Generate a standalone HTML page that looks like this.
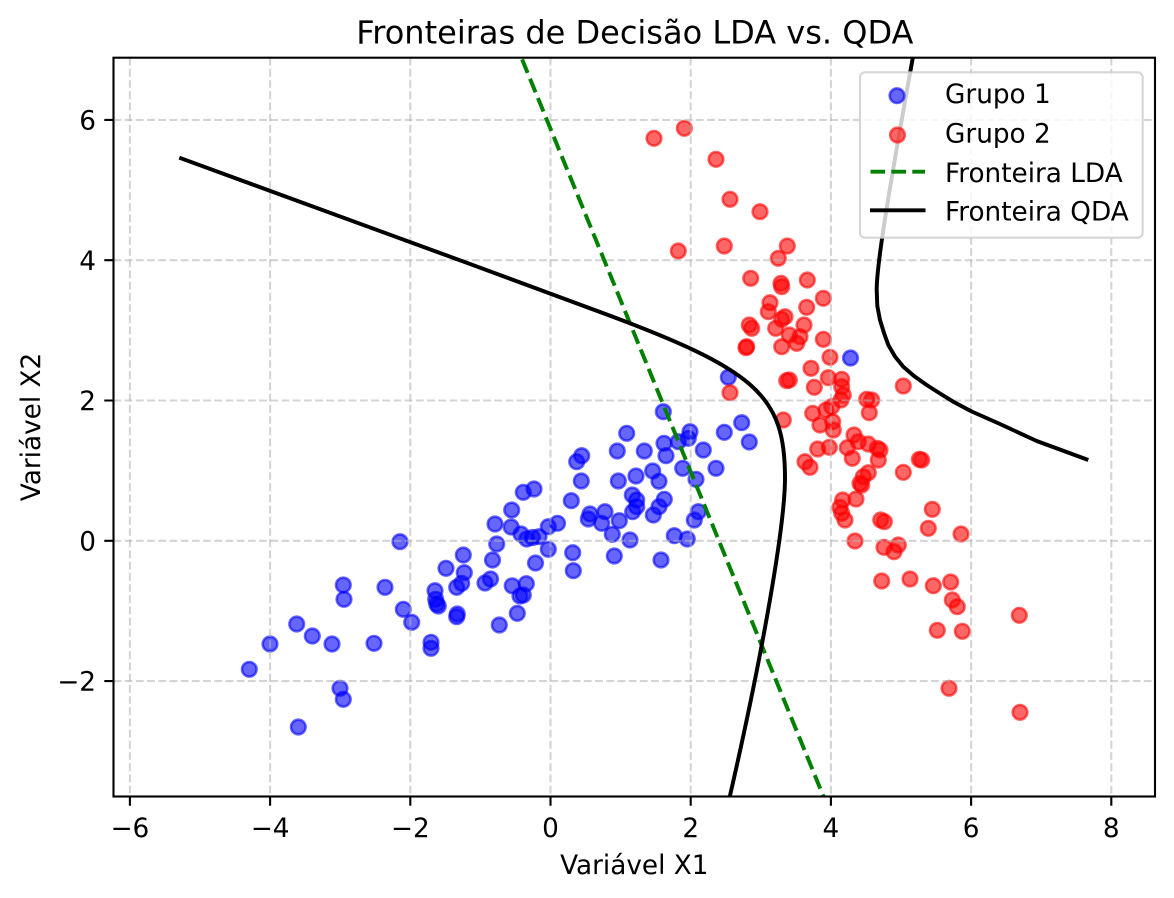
<!DOCTYPE html>
<html>
<head>
<meta charset="utf-8">
<style>
html,body{margin:0;padding:0;background:#fff}
svg{display:block}
text{font-family:"DejaVu Sans","Liberation Sans",sans-serif;fill:#000}
</style>
</head>
<body>
<svg width="1174" height="898" viewBox="0 0 1174 898" xmlns="http://www.w3.org/2000/svg" xmlns:xlink="http://www.w3.org/1999/xlink">
<defs>
<clipPath id="ax"><rect x="113.5" y="57.7" width="1041.5" height="738.8"/></clipPath>
<circle id="b" cx="0" cy="0" r="7.3" fill="#0000ff" fill-opacity="0.6" stroke="#0000ff" stroke-opacity="0.6" stroke-width="2.6"/>
<circle id="r" cx="0" cy="0" r="7.3" fill="#ff0000" fill-opacity="0.6" stroke="#ff0000" stroke-opacity="0.6" stroke-width="2.6"/>
</defs>
<rect x="0" y="0" width="1174" height="898" fill="#fff"/>

<g clip-path="url(#ax)">
<use href="#b" x="400" y="541.7"/><use href="#b" x="343.3" y="585"/><use href="#b" x="344" y="599.3"/><use href="#b" x="385" y="587.3"/><use href="#b" x="403.3" y="609.3"/><use href="#b" x="411.7" y="622.3"/>
<use href="#b" x="296.7" y="624"/><use href="#b" x="312.3" y="636"/><use href="#b" x="270" y="644"/><use href="#b" x="332" y="644"/><use href="#b" x="374" y="643.3"/><use href="#b" x="249.3" y="669.3"/>
<use href="#b" x="340" y="688.3"/><use href="#b" x="343.3" y="699.3"/><use href="#b" x="298.3" y="727"/><use href="#b" x="431" y="642.3"/><use href="#b" x="431" y="648.3"/><use href="#b" x="435" y="590.7"/>
<use href="#b" x="435.7" y="599.3"/><use href="#b" x="438.3" y="606"/><use href="#b" x="436.7" y="604"/><use href="#b" x="457.3" y="614"/><use href="#b" x="456.7" y="616.7"/><use href="#b" x="446" y="568.3"/>
<use href="#b" x="463.3" y="555"/><use href="#b" x="464.3" y="572.7"/><use href="#b" x="461.7" y="583.3"/><use href="#b" x="456.7" y="587.3"/><use href="#b" x="485" y="583"/><use href="#b" x="490.5" y="579"/>
<use href="#b" x="492.5" y="560"/><use href="#b" x="496.7" y="544"/><use href="#b" x="495" y="524"/><use href="#b" x="511.7" y="510"/><use href="#b" x="523.3" y="492.3"/><use href="#b" x="534" y="489"/>
<use href="#b" x="511.2" y="527"/><use href="#b" x="521" y="534"/><use href="#b" x="526.7" y="539"/><use href="#b" x="532.5" y="537.5"/><use href="#b" x="539" y="536.7"/><use href="#b" x="548.3" y="526.7"/>
<use href="#b" x="557.5" y="523.3"/><use href="#b" x="548.3" y="549.3"/><use href="#b" x="535.5" y="563"/><use href="#b" x="512.2" y="585.8"/><use href="#b" x="526.3" y="583.7"/><use href="#b" x="520" y="596"/>
<use href="#b" x="523.3" y="595"/><use href="#b" x="517.3" y="613.3"/><use href="#b" x="499.3" y="625"/><use href="#b" x="728.3" y="377.3"/><use href="#b" x="663.3" y="411.7"/><use href="#b" x="626.7" y="433.3"/>
<use href="#b" x="617.3" y="451"/><use href="#b" x="644.3" y="451"/><use href="#b" x="664" y="443.3"/><use href="#b" x="666" y="455.7"/><use href="#b" x="678.3" y="441.7"/><use href="#b" x="690" y="431.7"/>
<use href="#b" x="688.3" y="438.3"/><use href="#b" x="703.3" y="450"/><use href="#b" x="724.3" y="432.3"/><use href="#b" x="741.7" y="422.7"/><use href="#b" x="749.3" y="442"/><use href="#b" x="716" y="468.3"/>
<use href="#b" x="682.7" y="468.3"/><use href="#b" x="696" y="479.3"/><use href="#b" x="698.3" y="511.7"/><use href="#b" x="694.3" y="520"/><use href="#b" x="674.3" y="535.7"/><use href="#b" x="687.3" y="539"/>
<use href="#b" x="661" y="560"/><use href="#b" x="652.7" y="471"/><use href="#b" x="659" y="481.3"/><use href="#b" x="636" y="476"/><use href="#b" x="618.3" y="481"/><use href="#b" x="581.7" y="455.7"/>
<use href="#b" x="576.7" y="461.7"/><use href="#b" x="581.3" y="481"/><use href="#b" x="571.3" y="500.7"/><use href="#b" x="632.3" y="495"/><use href="#b" x="636.7" y="500"/><use href="#b" x="636.7" y="506.7"/>
<use href="#b" x="632.7" y="511.7"/><use href="#b" x="664.3" y="499.3"/><use href="#b" x="659" y="506.7"/><use href="#b" x="653.3" y="515"/><use href="#b" x="619.3" y="520.7"/><use href="#b" x="612.3" y="534.3"/>
<use href="#b" x="630" y="540"/><use href="#b" x="614.3" y="556"/><use href="#b" x="605" y="511.7"/><use href="#b" x="590" y="514"/><use href="#b" x="588.3" y="519"/><use href="#b" x="601.7" y="523.3"/>
<use href="#b" x="572.7" y="552.7"/><use href="#b" x="573.3" y="570.7"/><use href="#b" x="850.5" y="358"/>

<use href="#r" x="654" y="138.3"/><use href="#r" x="684.3" y="128.3"/><use href="#r" x="716" y="159.3"/><use href="#r" x="730" y="199.3"/><use href="#r" x="760" y="211.7"/><use href="#r" x="678.3" y="251"/>
<use href="#r" x="724.3" y="246"/><use href="#r" x="787.3" y="246"/><use href="#r" x="778.3" y="258.3"/><use href="#r" x="750.7" y="278.3"/><use href="#r" x="781" y="283.3"/><use href="#r" x="781.7" y="286.7"/>
<use href="#r" x="807.3" y="280"/><use href="#r" x="823.3" y="298.3"/><use href="#r" x="770" y="302.7"/><use href="#r" x="768.3" y="311.7"/><use href="#r" x="806.7" y="307.3"/><use href="#r" x="785" y="316.7"/>
<use href="#r" x="781.7" y="319.3"/><use href="#r" x="804" y="325"/><use href="#r" x="749.3" y="325"/><use href="#r" x="751.7" y="328.3"/><use href="#r" x="775.7" y="328.3"/><use href="#r" x="789.3" y="335"/>
<use href="#r" x="800" y="336.7"/><use href="#r" x="796.7" y="343.3"/><use href="#r" x="746.7" y="346.7"/><use href="#r" x="746" y="347.7"/><use href="#r" x="781.7" y="346.7"/><use href="#r" x="823.3" y="339.3"/>
<use href="#r" x="830" y="357.3"/><use href="#r" x="811" y="368.3"/><use href="#r" x="786.7" y="380.7"/><use href="#r" x="789.3" y="380"/><use href="#r" x="828.3" y="377.7"/><use href="#r" x="841.7" y="379.3"/>
<use href="#r" x="814.3" y="387.3"/><use href="#r" x="841.7" y="386.7"/><use href="#r" x="843.3" y="395"/><use href="#r" x="730" y="392.7"/><use href="#r" x="903.3" y="386"/><use href="#r" x="841" y="400"/>
<use href="#r" x="866.7" y="399.3"/><use href="#r" x="871.7" y="400"/><use href="#r" x="869.3" y="412.7"/><use href="#r" x="783.3" y="420"/><use href="#r" x="812.7" y="413.3"/><use href="#r" x="826" y="410"/>
<use href="#r" x="831.7" y="406.7"/><use href="#r" x="820" y="425"/><use href="#r" x="832.7" y="421.7"/><use href="#r" x="833.3" y="430"/><use href="#r" x="817.7" y="449"/><use href="#r" x="829.3" y="447.3"/>
<use href="#r" x="805" y="461.7"/><use href="#r" x="810" y="467.3"/><use href="#r" x="854" y="435"/><use href="#r" x="858.3" y="441.7"/><use href="#r" x="868.3" y="444"/><use href="#r" x="847.3" y="447.7"/>
<use href="#r" x="852.3" y="458.3"/><use href="#r" x="877.3" y="448.3"/><use href="#r" x="880" y="450"/><use href="#r" x="878.3" y="460"/><use href="#r" x="903.3" y="472.3"/><use href="#r" x="919.3" y="459.3"/>
<use href="#r" x="921.7" y="460"/><use href="#r" x="868.3" y="472.7"/><use href="#r" x="863.3" y="476.7"/><use href="#r" x="860" y="483.3"/><use href="#r" x="861.7" y="485"/><use href="#r" x="856" y="499"/>
<use href="#r" x="842.7" y="500"/><use href="#r" x="840" y="507.3"/><use href="#r" x="841.7" y="513.3"/><use href="#r" x="845" y="520"/><use href="#r" x="880.7" y="520"/><use href="#r" x="884.3" y="521.7"/>
<use href="#r" x="932.3" y="509.3"/><use href="#r" x="928.3" y="528.3"/><use href="#r" x="961" y="534"/><use href="#r" x="855" y="541"/><use href="#r" x="884" y="547.3"/><use href="#r" x="898.3" y="545"/>
<use href="#r" x="894" y="551.7"/><use href="#r" x="881.7" y="581"/><use href="#r" x="910" y="579"/><use href="#r" x="933.3" y="585.7"/><use href="#r" x="950.7" y="582"/><use href="#r" x="952.3" y="600"/>
<use href="#r" x="957.3" y="606.7"/><use href="#r" x="1019.3" y="615.3"/><use href="#r" x="937.3" y="630.3"/><use href="#r" x="962.3" y="631.3"/><use href="#r" x="949" y="688.3"/><use href="#r" x="1020" y="712.3"/>
</g>

<g stroke="#b0b0b0" stroke-opacity="0.55" stroke-width="2.1" stroke-dasharray="7.8,3.4" fill="none" clip-path="url(#ax)">
<path d="M129.9,57.7V796.5M270.1,57.7V796.5M410.3,57.7V796.5M550.5,57.7V796.5M690.7,57.7V796.5M830.9,57.7V796.5M971.1,57.7V796.5M1111.3,57.7V796.5"/>
<path d="M113.5,119.9H1155M113.5,260.2H1155M113.5,400.5H1155M113.5,540.8H1155M113.5,681.1H1155"/>
</g>

<g clip-path="url(#ax)" fill="none" stroke-linejoin="round">
<line x1="514.2" y1="40" x2="829" y2="810" stroke="#008000" stroke-width="3.95" stroke-dasharray="14.6,6.3"/>
<path stroke="#000" stroke-width="3.95" d="M179.3,157.7 C320,209 460,260 600,312 C757.2,370 785,395.6 785,478 C785,525.1 762.6,653.9 729,800"/>
<path stroke="#000" stroke-width="3.95" d="M914.2,50 C886.1,206 876.7,266 876.7,290 L877.3,306 L880,320 L884,333 L888.3,345 L895,356.5 L903.3,366.7 L914,376 L926.7,385 L940,393.5 L953.3,401.7 L971.7,411.5 L1000,424 L1036.7,441 L1088.3,460"/>
</g>

<rect x="113.5" y="57.7" width="1041.5" height="738.8" fill="none" stroke="#000" stroke-width="2.1"/>

<path stroke="#000" stroke-width="2.1" fill="none" d="M129.9,796.5v9.2M270.1,796.5v9.2M410.3,796.5v9.2M550.5,796.5v9.2M690.7,796.5v9.2M830.9,796.5v9.2M971.1,796.5v9.2M1111.3,796.5v9.2M104.3,119.9h9.2M104.3,260.2h9.2M104.3,400.5h9.2M104.3,540.8h9.2M104.3,681.1h9.2"/>

<g font-size="26.3" text-anchor="middle">
<text x="129.9" y="837">−6</text><text x="270.1" y="837">−4</text><text x="410.3" y="837">−2</text><text x="550.5" y="837">0</text>
<text x="690.7" y="837">2</text><text x="830.9" y="837">4</text><text x="971.1" y="837">6</text><text x="1111.3" y="837">8</text>
</g>
<g font-size="26.3" text-anchor="end">
<text x="96" y="129.5">6</text><text x="96" y="269.8">4</text><text x="96" y="410.1">2</text><text x="96" y="550.4">0</text><text x="96" y="690.7">−2</text>
</g>

<text x="634.3" y="874" font-size="26.3" text-anchor="middle">Variável X1</text>
<text transform="translate(40,427) rotate(-90)" font-size="26.3" text-anchor="middle">Variável X2</text>
<text x="634.8" y="43.3" font-size="32" text-anchor="middle">Fronteiras de Decisão LDA vs. QDA</text>

<rect x="860" y="72.3" width="282.7" height="165.4" rx="5" ry="5" fill="#fff" fill-opacity="0.8" stroke="#cccccc" stroke-opacity="0.8" stroke-width="2.1"/>
<use href="#b" x="897" y="95.7"/>
<use href="#r" x="897.5" y="135"/>
<line x1="870.5" y1="171.7" x2="925" y2="171.7" stroke="#008000" stroke-width="3.95" stroke-dasharray="14.6,6.3"/>
<line x1="870" y1="210.3" x2="925.5" y2="210.3" stroke="#000" stroke-width="3.95"/>
<g font-size="26.3">
<text x="945" y="103">Grupo 1</text>
<text x="945" y="142.7">Grupo 2</text>
<text x="945" y="182">Fronteira LDA</text>
<text x="945" y="220.7">Fronteira QDA</text>
</g>
</svg>
</body>
</html>
